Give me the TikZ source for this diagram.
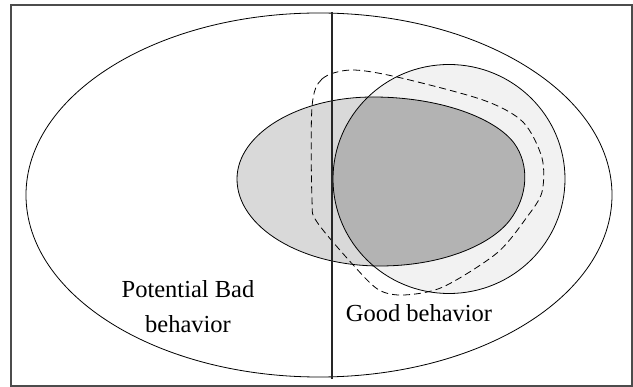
\documentclass[tikz,border=0pt]{standalone}
\usepackage{fontspec}
\setmainfont{Liberation Serif}
\definecolor{lightfill}{HTML}{F2F2F2}
\definecolor{midfill}{HTML}{D9D9D9}
\definecolor{darkfill}{HTML}{B3B3B3}
\newcommand{\eggshape}{(237,179) .. controls (237,134) and (298,97) .. (373,97) .. controls (440,97) and (495,118) .. (514,143) .. controls (530,165) and (528,196) .. (510,220) .. controls (490,246) and (440,266) .. (380,266) .. controls (301,266) and (237,227) .. cycle}
\begin{document}
\begin{tikzpicture}[x=1pt,y=-1pt,line width=0.8pt]
\useasboundingbox (0,0) rectangle (633,387);
\draw[black!70,line width=1.2pt] (11,5) rectangle (632,386);

\fill[lightfill] (449,179) ellipse [x radius=116, y radius=114.5];
\fill[midfill] \eggshape;
\begin{scope}
    \clip \eggshape;
    \fill[darkfill] (449,179) ellipse [x radius=116, y radius=114.5];
\end{scope}
\draw \eggshape;
\draw (449,179) ellipse [x radius=116, y radius=114.5];

\draw[dash pattern=on 7pt off 4pt] plot[smooth cycle, tension=0.5] coordinates {(312,107) (322,79) (351,70) (397,77) (483,100) (523,122) (542,158) (542,192) (527,217) (497,253) (443,287) (404,295) (379,290) (355,267) (317,222) (312,200)};

\draw (319,195) ellipse [x radius=293, y radius=182];
\coordinate (top) at (332,12);
\coordinate (bottom) at (332,379);
\draw[line width=1.2pt,black!85] (top) -- (bottom);

\node[font=\fontsize{24.5}{35}\selectfont,align=center] (bad) at (188,307) {Potential Bad\\behavior};
\node[font=\fontsize{24.5}{35}\selectfont] (good) at (419,313) {Good behavior};
\end{tikzpicture}
\end{document}
